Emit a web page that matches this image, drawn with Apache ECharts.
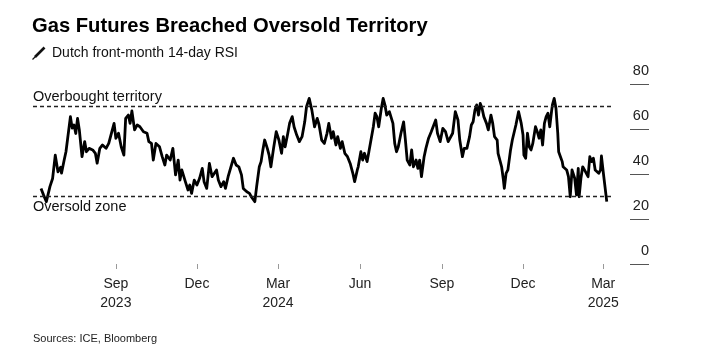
<!DOCTYPE html>
<html>
<head>
<meta charset="utf-8">
<script src="https://cdn.jsdelivr.net/npm/echarts@6/dist/echarts.min.js"></script>
<style>
html,body{margin:0;padding:0;background:#fff;}
#chart{width:711px;height:361px;}
</style>
</head>
<body>
<div id="chart"></div>
<script>
// ---- Data ----
const dates = [
'2023-06-09','2023-06-12','2023-06-15','2023-06-19','2023-06-22','2023-06-25','2023-06-28',
'2023-07-01','2023-07-02','2023-07-05','2023-07-07','2023-07-09','2023-07-12','2023-07-14','2023-07-16','2023-07-18','2023-07-20','2023-07-22','2023-07-25','2023-07-28','2023-07-30',
'2023-08-02','2023-08-06','2023-08-09','2023-08-11','2023-08-14','2023-08-17','2023-08-21','2023-08-24','2023-08-27','2023-08-30',
'2023-09-01','2023-09-04','2023-09-07','2023-09-10','2023-09-12','2023-09-15','2023-09-17','2023-09-19','2023-09-22','2023-09-25','2023-09-28',
'2023-10-02','2023-10-06','2023-10-08','2023-10-11','2023-10-13','2023-10-16','2023-10-20','2023-10-23','2023-10-26','2023-10-28',
'2023-11-01','2023-11-04','2023-11-07','2023-11-10','2023-11-12','2023-11-14','2023-11-18','2023-11-21','2023-11-23','2023-11-25','2023-11-28',
'2023-12-01','2023-12-04','2023-12-07','2023-12-09','2023-12-12','2023-12-15','2023-12-18','2023-12-20','2023-12-23','2023-12-25','2023-12-28','2023-12-31',
'2024-01-02','2024-01-05','2024-01-07','2024-01-11','2024-01-14','2024-01-17','2024-01-20','2024-01-22','2024-01-26','2024-01-29','2024-01-31',
'2024-02-02','2024-02-04','2024-02-06','2024-02-09','2024-02-11','2024-02-13','2024-02-15','2024-02-18','2024-02-20','2024-02-22','2024-02-25','2024-02-28',
'2024-03-02','2024-03-05','2024-03-07','2024-03-09','2024-03-12','2024-03-14','2024-03-17','2024-03-19','2024-03-22','2024-03-25','2024-03-28','2024-03-31',
'2024-04-02','2024-04-05','2024-04-08','2024-04-11','2024-04-14','2024-04-16','2024-04-19','2024-04-22','2024-04-25','2024-04-27','2024-04-30',
'2024-05-02','2024-05-05','2024-05-07','2024-05-10','2024-05-12','2024-05-15','2024-05-18','2024-05-21','2024-05-24','2024-05-26','2024-05-29','2024-05-30',
'2024-06-02','2024-06-04','2024-06-06','2024-06-09','2024-06-11','2024-06-14','2024-06-16','2024-06-18','2024-06-20','2024-06-22','2024-06-25','2024-06-27','2024-06-29',
'2024-07-01','2024-07-04','2024-07-06','2024-07-08','2024-07-10','2024-07-12','2024-07-14','2024-07-17','2024-07-20','2024-07-22','2024-07-24','2024-07-27','2024-07-29','2024-07-31',
'2024-08-03','2024-08-05','2024-08-07','2024-08-09','2024-08-12','2024-08-14','2024-08-17','2024-08-20','2024-08-22','2024-08-25','2024-08-27','2024-08-30',
'2024-09-02','2024-09-05','2024-09-08','2024-09-10','2024-09-13','2024-09-16','2024-09-19','2024-09-21','2024-09-24','2024-09-26','2024-09-29',
'2024-10-02','2024-10-04','2024-10-06','2024-10-08','2024-10-10','2024-10-12','2024-10-14','2024-10-16','2024-10-18','2024-10-19','2024-10-21','2024-10-23','2024-10-26','2024-10-28','2024-10-30',
'2024-11-02','2024-11-03','2024-11-05','2024-11-07','2024-11-09','2024-11-10','2024-11-12','2024-11-14','2024-11-17','2024-11-19','2024-11-21','2024-11-23','2024-11-26','2024-11-29',
'2024-12-01','2024-12-02','2024-12-04','2024-12-06','2024-12-08','2024-12-10','2024-12-12','2024-12-14','2024-12-15','2024-12-17','2024-12-19','2024-12-21','2024-12-23','2024-12-25','2024-12-27','2024-12-29','2024-12-31',
'2025-01-02','2025-01-03','2025-01-05','2025-01-07','2025-01-09','2025-01-10','2025-01-12','2025-01-14','2025-01-15','2025-01-17','2025-01-19','2025-01-21','2025-01-23','2025-01-25','2025-01-27','2025-01-28','2025-01-30',
'2025-02-01','2025-02-02','2025-02-04','2025-02-06','2025-02-08','2025-02-10','2025-02-12','2025-02-14','2025-02-16','2025-02-18','2025-02-20','2025-02-22','2025-02-24','2025-02-26','2025-02-27',
'2025-03-01','2025-03-03','2025-03-05'
];
const rsi = [
33.6,30.5,27.7,34.4,38.0,48.4,41.0,
43.0,40.4,46.2,49.9,49.3,65.5,60.4,61.8,58.0,64.7,59.6,47.7,54.4,49.9,
51.4,50.7,49.2,44.8,51.4,52.9,51.4,53.6,58.1,62.5,
55.9,58.1,52.1,48.4,64.7,66.2,62.5,68.0,59.6,61.8,61.0,
58.8,58.1,54.4,53.6,46.2,53.6,52.1,47.7,44.0,48.4,
46.2,51.4,39.6,46.2,37.3,41.8,36.6,32.9,35.1,31.4,37.3,
35.1,38.1,42.5,36.6,33.6,44.7,38.8,39.6,41.8,37.3,34.4,36.6,
33.6,38.8,38.1,47.0,44.0,43.2,39.6,33.6,32.1,31.4,29.9,
29.9,27.7,34.4,43.2,45.5,50.7,55.1,51.4,48.4,43.2,51.4,58.8,
55.1,49.2,56.6,52.1,58.1,62.5,65.5,61.0,57.3,54.4,56.6,63.2,
69.9,73.6,68.4,61.0,64.7,62.0,55.1,53.6,58.1,62.5,55.9,
58.8,52.9,56.6,51.4,54.4,49.2,47.7,44.7,40.3,36.6,41.8,43.2,
49.9,46.2,49.2,45.5,49.9,56.6,61.0,67.0,65.5,61.0,69.2,73.6,70.7,
66.2,67.7,67.0,62.5,53.6,49.9,52.1,58.1,63.2,55.1,46.2,44.0,50.7,43.2,
46.2,42.5,46.2,38.8,47.7,51.4,55.9,58.8,59.6,64.0,58.1,54.4,
60.3,58.8,54.4,53.6,58.1,67.7,64.0,55.1,47.7,51.4,51.4,
56.6,61.8,63.2,68.4,70.7,66.2,71.4,69.2,65.5,66.2,62.5,59.6,66.2,62.5,56.6,
55.1,49.2,49.9,43.2,37.3,33.6,40.3,41.8,50.7,55.1,55.9,61.8,67.7,62.5,
57.3,48.4,47.0,58.1,52.1,50.7,53.6,54.4,61.0,58.8,55.9,59.6,52.9,62.5,65.5,67.0,61.0,
67.7,70.7,73.6,69.2,58.1,49.9,47.7,45.5,43.2,42.5,41.8,38.8,29.9,41.8,41.0,38.1,30.7,
42.5,29.9,38.1,43.2,41.8,42.5,38.8,47.7,45.5,47.0,41.8,41.8,40.3,41.8,48.0,
41.0,34.4,27.7
];
const tickDates = ['2023-09-01','2023-12-01','2024-03-01','2024-06-01','2024-09-01','2024-12-01','2025-03-01'];
const tickLabels = ['Sep\n2023','Dec','Mar\n2024','Jun','Sep','Dec','Mar\n2025'];
const yTicks = [0, 20, 40, 60, 80];
const xRange = ['2023-05-31', '2025-03-12'];
const overbought = 70;
const oversold = 30;
const titleText = 'Gas Futures Breached Oversold Territory';
const subtitleText = 'Dutch front-month 14-day RSI';
const sourceText = 'Sources: ICE, Bloomberg';

function toTs(s) {
  const p = s.split('-').map(Number);
  return Date.UTC(p[0], p[1] - 1, p[2]);
}
const tickTs = tickDates.map(toTs);
const seriesData = dates.map((d, i) => [toTs(d), rsi[i]]);

const FONT = 'Liberation Sans, Arial, Helvetica, sans-serif';
const chart = echarts.init(document.getElementById('chart'), null, {renderer: 'canvas'});
chart.setOption({
  animation: false,
  backgroundColor: '#fff',
  textStyle: {fontFamily: FONT},
  title: [
    {text: titleText, left: 32, top: 16, padding: 0,
     textStyle: {fontFamily: FONT, fontSize: 20.2, fontWeight: 'bold', color: '#000'}},
    {text: subtitleText, left: 52, top: 46, padding: 0,
     textStyle: {fontFamily: FONT, fontSize: 14, fontWeight: 'normal', color: '#111'}},
    {text: sourceText, left: 33, top: 333, padding: 0,
     textStyle: {fontFamily: FONT, fontSize: 11, fontWeight: 'normal', color: '#222'}}
  ],
  graphic: [
    {type: 'line', shape: {x1: 35, y1: 57, x2: 44.5, y2: 47.5},
     style: {stroke: '#111', lineWidth: 2.6}},
    {type: 'line', shape: {x1: 32.5, y1: 59.5, x2: 35.5, y2: 56.5},
     style: {stroke: '#111', lineWidth: 1.3}}
  ],
  grid: {left: 33, right: 98, top: 84, bottom: 97, containLabel: false},
  xAxis: {
    type: 'value',
    min: toTs(xRange[0]),
    max: toTs(xRange[1]),
    axisLine: {show: false},
    splitLine: {show: false},
    axisTick: {show: true, length: 5, customValues: tickTs,
               lineStyle: {color: '#999', width: 1}},
    axisLabel: {
      customValues: tickTs,
      margin: 11,
      fontSize: 14,
      lineHeight: 19,
      color: '#222',
      fontFamily: FONT,
      showMinLabel: true,
      showMaxLabel: true,
      formatter: function (v) {
        let best = 0, bd = Infinity;
        tickTs.forEach((t, i) => { const d = Math.abs(t - v); if (d < bd) { bd = d; best = i; } });
        return tickLabels[best];
      }
    }
  },
  yAxis: {
    type: 'value',
    position: 'right',
    offset: 17,
    min: yTicks[0],
    max: yTicks[yTicks.length - 1],
    interval: 20,
    axisLine: {show: false},
    splitLine: {show: false},
    axisTick: {show: true, inside: false, length: 19, lineStyle: {color: '#555', width: 1}},
    axisLabel: {
      margin: 19,
      align: 'right',
      verticalAlign: 'bottom',
      lineHeight: 26,
      fontSize: 14.5,
      color: '#222',
      fontFamily: FONT
    }
  },
  series: [{
    type: 'line',
    data: seriesData,
    showSymbol: false,
    symbol: 'none',
    lineStyle: {color: '#000', width: 2.8, join: 'round'},
    markLine: {
      silent: true,
      symbol: 'none',
      lineStyle: {color: '#222', width: 1.3, type: [4, 3]},
      data: [
        {yAxis: overbought, label: {formatter: 'Overbought territory', position: 'insideStartTop', distance: [0, 2]}},
        {yAxis: oversold, label: {formatter: 'Oversold zone', position: 'insideStartBottom', distance: [0, 3]}}
      ],
      label: {fontSize: 14.5, color: '#111', fontFamily: FONT}
    }
  }]
});
</script>
</body>
</html>
